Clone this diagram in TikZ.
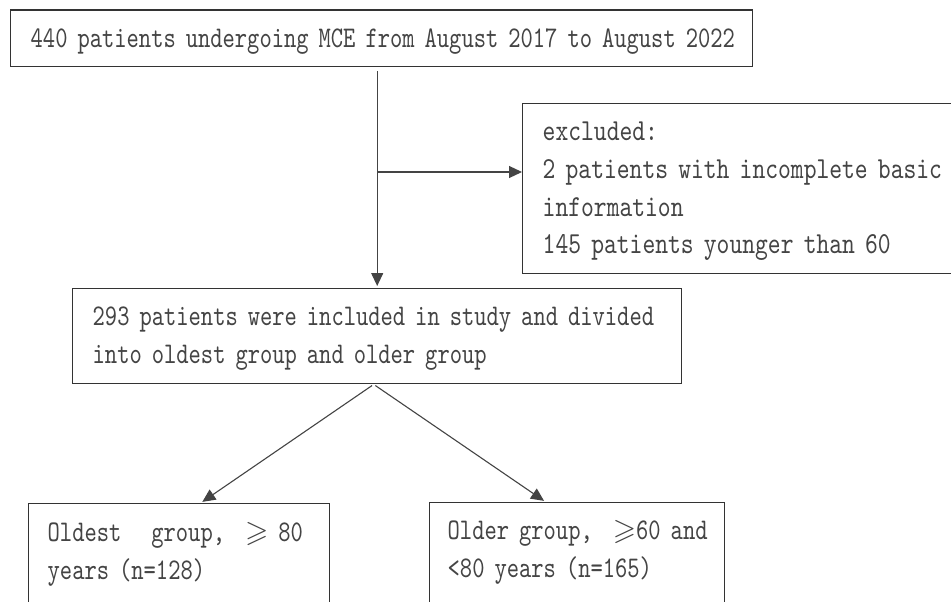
\documentclass[tikz,border=0pt]{standalone}
\usepackage{fontspec}
\usepackage{amssymb}
\usetikzlibrary{arrows.meta}
\newfontfamily\boxfont{lmmono10-regular.otf}[FakeStretch=0.78]
\newfontfamily\exfont{lmmono10-regular.otf}[FakeStretch=0.8]
\definecolor{txtgray}{HTML}{444444}
\definecolor{linegray}{HTML}{333333}
\definecolor{arrgray}{HTML}{444444}
\begin{document}
\begin{tikzpicture}[x=1pt,y=-1pt,
  box/.style={draw=linegray, line width=1.4pt, inner ysep=0pt, align=left, text=txtgray, anchor=north west},
  arr/.style={draw=arrgray, line width=1.1pt, -{Triangle[length=13pt,width=12pt]}},
  mainfont/.style={font=\boxfont\fontsize{30}{38}\selectfont},
  exclfont/.style={font=\exfont\fontsize{30.5}{37.7}\selectfont},
]
\useasboundingbox (0,0) rectangle (951,602);
\clip (0,0) rectangle (951,602);
\fill[white] (0,0) rectangle (951,602);

\node[box, mainfont, inner xsep=20pt, text width=702pt, text height=37.5pt, text depth=19pt] (top) at (10,9.5)
  {\mbox{440 patients undergoing MCE from August 2017 to August 2022}};

\node[box, exclfont, inner xsep=20pt, text width=428pt, text height=37pt, text depth=133pt] (excl) at (522,103)
  {excluded:\\\mbox{2 patients with incomplete basic}\\information\\\mbox{145 patients younger than 60}};

\node[box, mainfont, inner xsep=20pt, text width=569pt, text height=37pt, text depth=58pt] (mid) at (72,288)
  {\mbox{293 patients were included in study and divided}\\\mbox{into oldest group and older group}};

\node[box, mainfont, inner xsep=19pt, text width=263pt, text height=38pt, text depth=99pt] (lb) at (28,503)
  {\mbox{Oldest\ \ \ group,\ \ $\geqslant$\ 80}\\\mbox{years (n=128)}};

\node[box, mainfont, inner xsep=18pt, text width=259pt, text height=37pt, text depth=100pt] (rb) at (429,502)
  {\mbox{Older group,\ \ $\geqslant$60 and}\\\mbox{<80 years (n=165)}};

\draw[arr, shorten <=4pt, shorten >=2pt] (top.south -| mid.north) -- (mid.north);
\coordinate (br) at (mid.north |- 0,172);
\draw[arr] (br) -- (br -| excl.west);
\coordinate (apex) at ([xshift=-3.5pt]mid.south);
\draw[arr, shorten <=2pt, shorten >=2pt] (apex) -- ([xshift=21.5pt]lb.north);
\draw[arr, shorten <=2pt, shorten >=2pt] (apex) -- ([xshift=-31.5pt]rb.north);
\end{tikzpicture}
\end{document}
